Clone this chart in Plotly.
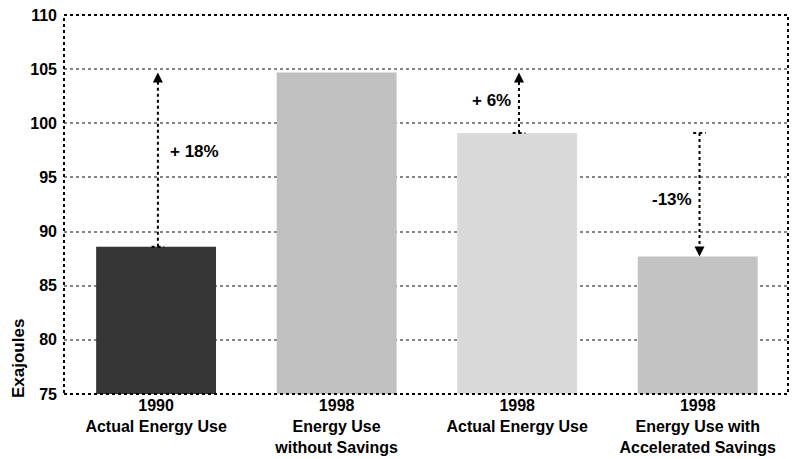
import plotly.graph_objects as go

# ---- data ----
tick_labels = [
    "<b>1990</b><br><b>Actual Energy Use</b>",
    "<b>1998</b><br><b>Energy Use</b><br><b>without Savings</b>",
    "<b>1998</b><br><b>Actual Energy Use</b>",
    "<b>1998</b><br><b>Energy Use with</b><br><b>Accelerated Savings</b>",
]
positions = [0, 1, 2, 3]
values = [88.6, 104.7, 99.1, 87.7]
bar_colors = ["#363636", "#c0c0c0", "#dadada", "#c3c3c3"]

# change arrows: (x position index, start value index, end value index, label)
arrow_from = [0, 2, 2]
arrow_to = [1, 1, 3]
arrow_at = [0, 2, 3]
arrow_labels = ["+ 18%", "+ 6%", "-13%"]
label_pos_x = [0.21, 1.86, 2.86]
label_pos_y = [97.35, 102.15, 93.0]

y_ticks = [75, 80, 85, 90, 95, 100, 105, 110]

BOLD = "Liberation Sans, Arial, sans-serif"

fig = go.Figure()
fig.add_trace(go.Bar(
    x=positions, y=[v - 75 for v in values], base=75,
    marker=dict(color=bar_colors, line=dict(width=0)),
    width=0.664, hoverinfo="skip", showlegend=False,
))

annotations = []
shapes = []
for xi, fi, ti, lab, lx, ly in zip(arrow_at, arrow_from, arrow_to, arrow_labels,
                                    label_pos_x, label_pos_y):
    xa = positions[xi] + 0.01
    y0 = values[fi]
    y1 = values[ti]
    up = y1 > y0
    fig.add_trace(go.Scatter(
        x=[xa, xa], y=[y0, y1 - (0.6 if up else -0.6)], mode="lines",
        line=dict(color="black", width=2, dash="dot"),
        hoverinfo="skip", showlegend=False,
    ))
    shapes.append(dict(type="line", xref="x", yref="y",
                       x0=xa - 0.035, x1=xa + 0.035, y0=y0, y1=y0,
                       line=dict(color="black", width=2, dash="dot")))
    annotations.append(dict(
        x=xa, y=y1, ax=xa, ay=y1 - (0.9 if up else -0.9),
        xref="x", yref="y", axref="x", ayref="y",
        showarrow=True, arrowhead=2, arrowsize=1.0, arrowwidth=2,
        arrowcolor="black", text="",
    ))
    annotations.append(dict(
        x=lx, y=ly, xref="x", yref="y", text="<b>" + lab + "</b>",
        showarrow=False, font=dict(family=BOLD, size=17, color="black"),
    ))

annotations.append(dict(
    x=(18 - 64) / 724, y=(394 - 359) / 379, xref="paper", yref="paper",
    text="<b>Exajoules</b>", showarrow=False, textangle=-90,
    xanchor="center", yanchor="middle",
    font=dict(family=BOLD, size=17, color="black"),
))

shapes.append(dict(type="rect", xref="paper", yref="paper",
                   x0=0, x1=1, y0=0, y1=1,
                   line=dict(color="black", width=2, dash="dot"),
                   layer="above"))

fig.update_layout(
    width=790, height=451,
    margin=dict(l=56, r=10, t=7, b=65, autoexpand=False),
    paper_bgcolor="white", plot_bgcolor="white",
    showlegend=False,
    annotations=annotations,
    shapes=shapes,
    xaxis=dict(
        range=[-0.51, 3.5], tickvals=positions, ticktext=tick_labels,
        showgrid=False, zeroline=False, showline=False, ticks="",
        tickfont=dict(family=BOLD, size=16, color="black"),
        automargin=False, fixedrange=True, ticklabeloverflow="allow",
    ),
    yaxis=dict(
        range=[75, 110], tickvals=y_ticks,
        ticktext=["<b>%d</b>" % v for v in y_ticks],
        showgrid=True, gridcolor="#858585", gridwidth=2, griddash="dot",
        zeroline=False, showline=False, ticks="",
        tickfont=dict(family=BOLD, size=16, color="black"),
        ticklabelstandoff=6, automargin=False, ticklabeloverflow="allow",
        fixedrange=True,
    ),
)

fig.write_html("out.html")
